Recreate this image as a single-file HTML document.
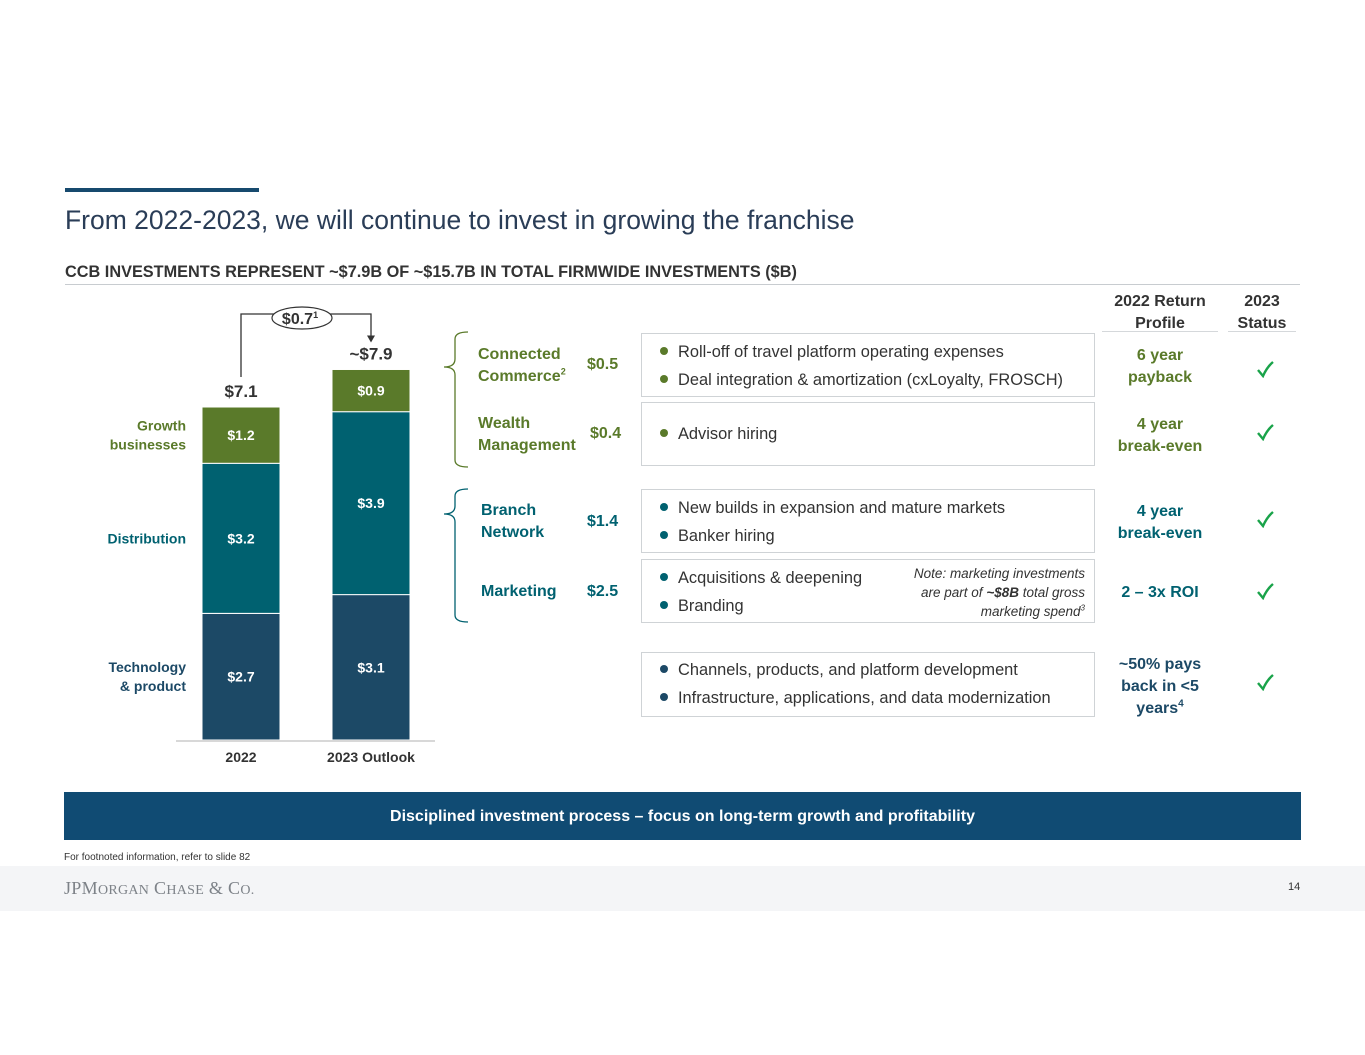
<!DOCTYPE html>
<html><head><meta charset="utf-8"><style>
body{margin:0;width:1365px;height:1055px;background:#fff;position:relative;font-family:"Liberation Sans",Arial,sans-serif;overflow:hidden}
.a{position:absolute;white-space:nowrap}
.b{font-weight:bold}
.g{color:#5a7a2a}.t{color:#006170}.n{color:#1c4966}
sup{line-height:0;vertical-align:super}
.box{position:absolute;border:1px solid #cfd3d6;background:#fff}
.li{position:absolute;font-size:16.4px;color:#333;white-space:nowrap}
.li:before{content:"";display:inline-block;width:8px;height:8px;border-radius:50%;margin-right:10px;vertical-align:2px;background:var(--c)}
.r{position:absolute;text-align:center;font-weight:bold;font-size:16px;line-height:22px;width:140px}
.ck{position:absolute;left:1256px}
</style></head><body>
<div class="a" style="left:65px;top:188px;width:194px;height:4px;background:#174a6e"></div>
<div class="a" style="left:65px;top:205px;font-size:26.5px;color:#2a3d57">From 2022-2023, we will continue to invest in growing the franchise</div>
<div class="a b" style="left:65px;top:263px;font-size:16.3px;color:#333">CCB INVESTMENTS REPRESENT ~$7.9B OF ~$15.7B IN TOTAL FIRMWIDE INVESTMENTS ($B)</div>
<div class="a" style="left:65px;top:284px;width:1235px;height:1px;background:#c8ccd0"></div>

<svg id="chart" class="a" style="left:0;top:0" width="460" height="780"></svg>

<svg class="a" style="left:440px;top:325px" width="40" height="305">
<path d="M28 7 Q15 7 15 14 L15 34 Q15 42 4 42 Q15 42 15 50 L15 135 Q15 142 28 142" fill="none" stroke="#5a7a2a" stroke-width="1.3"/>
<path d="M28 164 Q15 164 15 171 L15 181 Q15 189 4 189 Q15 189 15 197 L15 290 Q15 297 28 297" fill="none" stroke="#006170" stroke-width="1.3"/>
</svg>

<div class="a b g" style="left:478px;top:344px;font-size:16px;line-height:22px">Connected<br>Commerce<sup style="font-size:9px">2</sup></div>
<div class="a b g" style="left:587px;top:356px;font-size:16px">$0.5</div>
<div class="a b g" style="left:478px;top:413px;font-size:16px;line-height:22px">Wealth<br>Management</div>
<div class="a b g" style="left:590px;top:425px;font-size:16px">$0.4</div>
<div class="a b t" style="left:481px;top:500px;font-size:16px;line-height:22px">Branch<br>Network</div>
<div class="a b t" style="left:587px;top:513px;font-size:16px">$1.4</div>
<div class="a b t" style="left:481px;top:583px;font-size:16px">Marketing</div>
<div class="a b t" style="left:587px;top:583px;font-size:16px">$2.5</div>

<div class="box" style="left:641px;top:333px;width:452px;height:62px"></div>
<div class="li" style="--c:#5a7a2a;left:660px;top:343px">Roll-off of travel platform operating expenses</div>
<div class="li" style="--c:#5a7a2a;left:660px;top:371px">Deal integration &amp; amortization (cxLoyalty, FROSCH)</div>
<div class="box" style="left:641px;top:402px;width:452px;height:62px"></div>
<div class="li" style="--c:#5a7a2a;left:660px;top:425px">Advisor hiring</div>
<div class="box" style="left:641px;top:489px;width:452px;height:62px"></div>
<div class="li" style="--c:#006170;left:660px;top:499px">New builds in expansion and mature markets</div>
<div class="li" style="--c:#006170;left:660px;top:527px">Banker hiring</div>
<div class="box" style="left:641px;top:559px;width:452px;height:62px"></div>
<div class="li" style="--c:#006170;left:660px;top:569px">Acquisitions &amp; deepening</div>
<div class="li" style="--c:#006170;left:660px;top:597px">Branding</div>
<div class="a" style="left:870px;top:564px;width:215px;text-align:right;font-size:13.5px;font-style:italic;color:#333;line-height:19px">Note: marketing investments<br>are part of <b>~$8B</b> total gross<br>marketing spend<sup style="font-size:8px">3</sup></div>
<div class="box" style="left:641px;top:652px;width:452px;height:63px"></div>
<div class="li" style="--c:#1c4966;left:660px;top:661px">Channels, products, and platform development</div>
<div class="li" style="--c:#1c4966;left:660px;top:689px">Infrastructure, applications, and data modernization</div>

<div class="r" style="left:1090px;top:291px;color:#333">2022 Return<br>Profile</div>
<div class="a" style="left:1102px;top:331px;width:116px;height:1px;background:#d5d8db"></div>
<div class="r" style="left:1192px;top:291px;color:#333">2023<br>Status</div>
<div class="a" style="left:1228px;top:331px;width:68px;height:1px;background:#d5d8db"></div>
<div class="r g" style="left:1090px;top:345px">6 year<br>payback</div>
<div class="r g" style="left:1090px;top:414px">4 year<br>break-even</div>
<div class="r t" style="left:1090px;top:501px">4 year<br>break-even</div>
<div class="r t" style="left:1090px;top:582px">2 – 3x ROI</div>
<div class="r n" style="left:1090px;top:654px">~50% pays<br>back in &lt;5<br>years<sup style="font-size:10px">4</sup></div>
<svg class="ck" style="top:360px" width="18" height="18"><path d="M2 10 L7 16 Q11 7 17 2" fill="none" stroke="#1aa34a" stroke-width="2.4"/></svg>
<svg class="ck" style="top:423px" width="18" height="18"><path d="M2 10 L7 16 Q11 7 17 2" fill="none" stroke="#1aa34a" stroke-width="2.4"/></svg>
<svg class="ck" style="top:510px" width="18" height="18"><path d="M2 10 L7 16 Q11 7 17 2" fill="none" stroke="#1aa34a" stroke-width="2.4"/></svg>
<svg class="ck" style="top:582px" width="18" height="18"><path d="M2 10 L7 16 Q11 7 17 2" fill="none" stroke="#1aa34a" stroke-width="2.4"/></svg>
<svg class="ck" style="top:673px" width="18" height="18"><path d="M2 10 L7 16 Q11 7 17 2" fill="none" stroke="#1aa34a" stroke-width="2.4"/></svg>

<div class="a b" style="left:64px;top:792px;width:1237px;height:48px;background:#104b73;color:#fff;font-size:16px;line-height:50px;text-align:center">Disciplined investment process – focus on long-term growth and profitability</div>
<div class="a" style="left:64px;top:852px;font-size:10px;color:#333">For footnoted information, refer to slide 82</div>
<div class="a" style="left:0;top:866px;width:1365px;height:45px;background:#f4f5f7"></div>
<div class="a" style="left:64px;top:878px;font-family:'Liberation Serif',serif;font-size:18px;color:#7d8288;letter-spacing:0.3px">JP<span>M</span><span style="font-size:14px">ORGAN</span> C<span style="font-size:14px">HASE</span> &amp; C<span style="font-size:14px">O.</span></div>
<div class="a" style="left:1288px;top:881px;font-size:11px;color:#333">14</div>

<script>
const categories=["2022","2023 Outlook"];
const technology=[2.7,3.1];
const distribution=[3.2,3.9];
const growth=[1.2,0.9];
const totals=["$7.1","~$7.9"];
const seriesLabels=["Technology\n& product","Distribution","Growth\nbusinesses"];
const NS="http://www.w3.org/2000/svg";
const svg=document.getElementById('chart');
const baseY=740, pxPer=46.9, barW=78, barX=[202,332];
const y=v=>baseY-v*pxPer;
function mk(tag,attrs){const e=document.createElementNS(NS,tag);for(const k in attrs)e.setAttribute(k,attrs[k]);svg.appendChild(e);return e;}
const series=[{v:technology,c:"#1c4966",n:"technology"},{v:distribution,c:"#006170",n:"distribution"},{v:growth,c:"#5a7a2a",n:"growth"}];
categories.forEach((cat,i)=>{
  let acc=0;
  series.forEach(s=>{
    const v=s.v[i];
    const r=mk('rect',{x:barX[i],y:y(acc+v),width:barW,height:v*pxPer,fill:s.c,stroke:"#fff","stroke-width":1});
    
    
    const t=mk('text',{x:barX[i]+barW/2,y:y(acc+v/2)+5,"text-anchor":"middle",fill:"#fff","font-size":14,"font-weight":"bold"});
    t.textContent="$"+v.toFixed(1);
    
    
    acc+=v;
  });
  const tt=mk('text',{x:barX[i]+barW/2,y:y(acc)-10,"text-anchor":"middle",fill:"#333","font-size":17,"font-weight":"bold"});
  tt.textContent=totals[i];
  
  
  const xl=mk('text',{x:barX[i]+barW/2,y:762,"text-anchor":"middle",fill:"#333","font-size":14,"font-weight":"bold"});
  xl.textContent=cat;
  
  
});
const ax=mk('line',{x1:176,x2:435,y1:baseY+1,y2:baseY+1,stroke:"#ccc","stroke-width":1.5});


let acc0=0;
series.forEach((s,k)=>{
  const mid=y(acc0+s.v[0]/2);acc0+=s.v[0];
  const lines=seriesLabels[k].split("\n");
  lines.forEach((ln,j)=>{
    const t=mk('text',{x:186,y:mid+5+(j-(lines.length-1)/2)*19,"text-anchor":"end",fill:s.c,"font-size":14,"font-weight":"bold"});
    t.textContent=ln;
    
    
  });
});
const x0=barX[0]+barW/2,x1=barX[1]+barW/2;
const p=mk('path',{d:`M${x0} ${y(7.1)-30} V314 H${x1} V${y(7.9)-32}`,fill:"none",stroke:"#333","stroke-width":1.3});


const ah=mk('path',{d:`M${x1-4} ${y(7.9)-34} L${x1+4} ${y(7.9)-34} L${x1} ${y(7.9)-27}Z`,fill:"#333"});


const el=mk('ellipse',{cx:302,cy:318,rx:30,ry:11,fill:"#fff",stroke:"#333","stroke-width":1.2});


const dt=mk('text',{x:300,y:324,"text-anchor":"middle",fill:"#333","font-size":16,"font-weight":"bold"});
dt.innerHTML='$0.7<tspan font-size="9" dy="-6">1</tspan>';


</script>
</body></html>
